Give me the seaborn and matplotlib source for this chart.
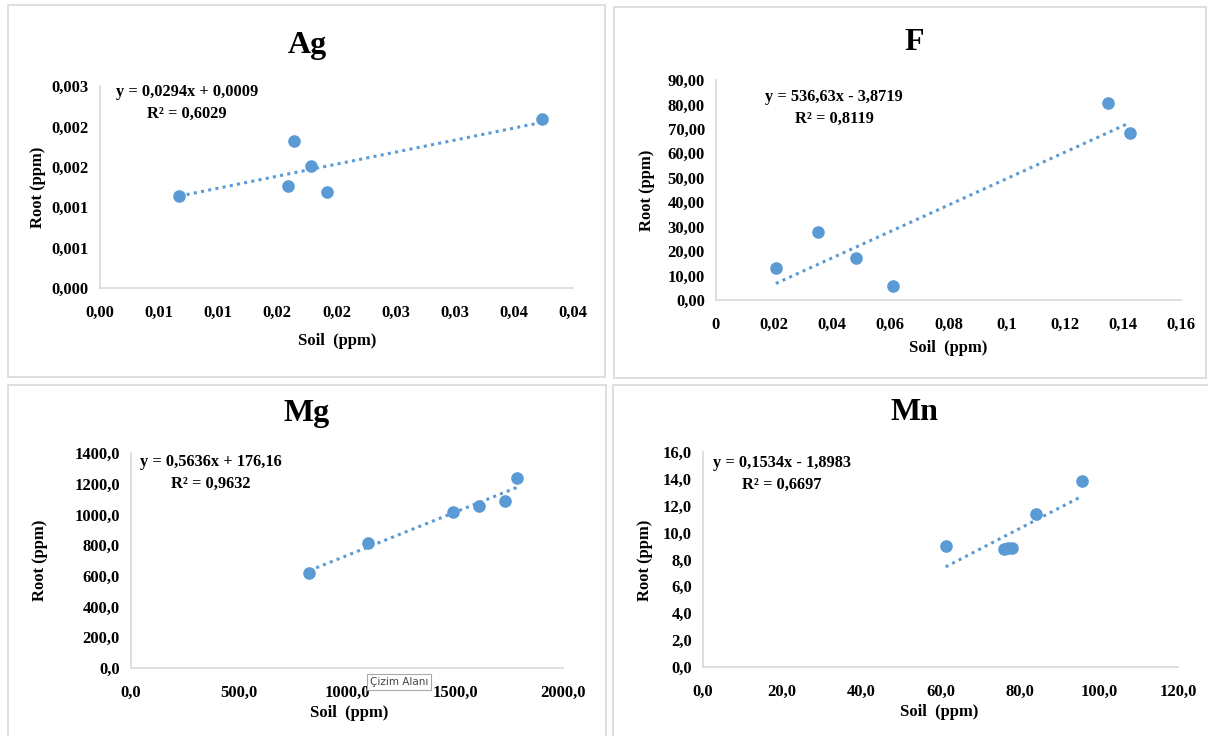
import numpy as np
import pandas as pd
import matplotlib
matplotlib.use("Agg")
import matplotlib.pyplot as plt
import seaborn as sns
from matplotlib.patches import Rectangle

# values (soil vs root, ppm)
ag_soil = [0.00672, 0.01639, 0.01593, 0.01781, 0.01921, 0.03735]
ag_root = [0.001139, 0.001819, 0.001262, 0.001506, 0.001188, 0.002087]
f_soil = [0.0206, 0.0352, 0.0481, 0.0609, 0.1350, 0.1424]
f_root = [13.0, 27.9, 17.1, 5.9, 80.5, 68.2]
mg_soil = [826, 1095, 1490, 1612, 1731, 1789]
mg_root = [619.6, 815.0, 1017.0, 1052.0, 1087.0, 1239.0]
mn_soil = [61.3, 76.0, 77.0, 78.0, 84.2, 95.8]
mn_root = [8.99, 8.75, 8.82, 8.87, 11.40, 13.84]

# tick labels as shown (Excel, comma decimals)
ag_xticks = [0, 0.005, 0.01, 0.015, 0.02, 0.025, 0.03, 0.035, 0.04]
ag_xlabels = ["0,00", "0,01", "0,01", "0,02", "0,02", "0,03", "0,03", "0,04", "0,04"]
ag_yticks = [0, 0.0005, 0.001, 0.0015, 0.002, 0.0025]
ag_ylabels = ["0,000", "0,001", "0,001", "0,002", "0,002", "0,003"]
f_xticks = [0, 0.02, 0.04, 0.06, 0.08, 0.1, 0.12, 0.14, 0.16]
f_xlabels = ["0", "0,02", "0,04", "0,06", "0,08", "0,1", "0,12", "0,14", "0,16"]
f_yticks = [0, 10, 20, 30, 40, 50, 60, 70, 80, 90]
f_ylabels = ["0,00", "10,00", "20,00", "30,00", "40,00", "50,00", "60,00", "70,00", "80,00", "90,00"]
mg_xticks = [0, 500, 1000, 1500, 2000]
mg_xlabels = ["0,0", "500,0", "1000,0", "1500,0", "2000,0"]
mg_yticks = [0, 200, 400, 600, 800, 1000, 1200, 1400]
mg_ylabels = ["0,0", "200,0", "400,0", "600,0", "800,0", "1000,0", "1200,0", "1400,0"]
mn_xticks = [0, 20, 40, 60, 80, 100, 120]
mn_xlabels = ["0,0", "20,0", "40,0", "60,0", "80,0", "100,0", "120,0"]
mn_yticks = [0, 2, 4, 6, 8, 10, 12, 14, 16]
mn_ylabels = ["0,0", "2,0", "4,0", "6,0", "8,0", "10,0", "12,0", "14,0", "16,0"]

titles = ["Ag", "F", "Mg", "Mn"]
equations = ["y = 0,0294x + 0,0009\nR² = 0,6029",
             "y = 536,63x - 3,8719\nR² = 0,8119",
             "y = 0,5636x + 176,16\nR² = 0,9632",
             "y = 0,1534x - 1,8983\nR² = 0,6697"]

sns.set_style("white")
plt.rcParams["font.family"] = ["Liberation Serif", "DejaVu Serif"]
plt.rcParams["font.weight"] = "bold"
plt.rcParams["text.color"] = "black"
plt.rcParams["xtick.color"] = "black"
plt.rcParams["ytick.color"] = "black"

W, H = 1208, 736
blue = "#5B9BD5"
fig = plt.figure(figsize=(W / 100, H / 100), dpi=100)


def px_box(l, t, r, b):
    return [l / W, 1 - b / H, (r - l) / W, (b - t) / H]


def panel(box, frame, soil, root, xt, xl, yt, yl, title, eq, title_xy, eq_xy, xlab_xy, ylab_xy):
    # light frame around each Excel chart
    fl, ft, fr, fb = frame
    fig.patches.append(Rectangle((fl / W, 1 - fb / H), (fr - fl) / W, (fb - ft) / H,
                                 transform=fig.transFigure, fill=False,
                                 edgecolor="#D9D9D9", lw=1.2))
    ax = fig.add_axes(px_box(*box))
    df = pd.DataFrame({"soil": soil, "root": root})
    sns.regplot(data=df, x="soil", y="root", ax=ax, ci=None, truncate=True,
                scatter_kws=dict(s=65, color=blue, edgecolor=blue, alpha=1, zorder=3),
                line_kws=dict(color=blue, ls=(0, (1, 1.4)), lw=2.2))
    ax.set_xlim(xt[0], xt[-1])
    ax.set_ylim(yt[0], yt[-1])
    ax.set_xticks(xt)
    ax.set_xticklabels(xl)
    ax.set_yticks(yt)
    ax.set_yticklabels(yl)
    ax.tick_params(length=0, labelsize=12, labelcolor="black")
    ax.tick_params(axis="x", pad=12)
    ax.tick_params(axis="y", pad=8)
    ax.set_xlabel("")
    ax.set_ylabel("")
    for s in ["top", "right"]:
        ax.spines[s].set_visible(False)
    for s in ["left", "bottom"]:
        ax.spines[s].set_color("#D9D9D9")
        ax.spines[s].set_linewidth(1.2)
    ax.patch.set_alpha(0)
    fig.text(title_xy[0] / W, 1 - title_xy[1] / H, title, ha="center", va="center",
             fontsize=23, fontweight="bold")
    fig.text(eq_xy[0] / W, 1 - eq_xy[1] / H, eq, ha="center", va="center",
             fontsize=11.8, fontweight="bold", linespacing=1.45)
    fig.text(xlab_xy[0] / W, 1 - xlab_xy[1] / H, "Soil  (ppm)", ha="center", va="center",
             fontsize=12, fontweight="bold")
    fig.text(ylab_xy[0] / W, 1 - ylab_xy[1] / H, "Root (ppm)", ha="center", va="center",
             fontsize=12, fontweight="bold", rotation=90)
    return ax


panel((100, 86, 573, 288), (8, 5, 605, 377), ag_soil, ag_root, ag_xticks, ag_xlabels,
      ag_yticks, ag_ylabels, titles[0], equations[0], (307, 45), (187, 103), (337, 341), (38, 187))
panel((716, 80, 1181, 300), (614, 7, 1206, 378), f_soil, f_root, f_xticks, f_xlabels,
      f_yticks, f_ylabels, titles[1], equations[1], (914, 42), (834, 108), (948, 348), (647, 190))
panel((131, 453, 563, 668), (8, 385, 606, 740), mg_soil, mg_root, mg_xticks, mg_xlabels,
      mg_yticks, mg_ylabels, titles[2], equations[2], (307, 414), (211, 473), (349, 713), (40, 560))
panel((703, 452, 1178, 667), (613, 385, 1210, 740), mn_soil, mn_root, mn_xticks, mn_xlabels,
      mn_yticks, mn_ylabels, titles[3], equations[3], (914, 413), (782, 474), (939, 712), (645, 560))

# Excel tooltip captured in the screenshot
fig.text(399 / W, 1 - 682 / H, "Çizim Alanı", ha="center", va="center", fontsize=7.5,
         family="DejaVu Sans", fontweight="normal", color="#444444",
         bbox=dict(boxstyle="square,pad=0.3", fc="white", ec="#AAAAAA", lw=0.8))

fig.savefig("out.png", dpi=100)
